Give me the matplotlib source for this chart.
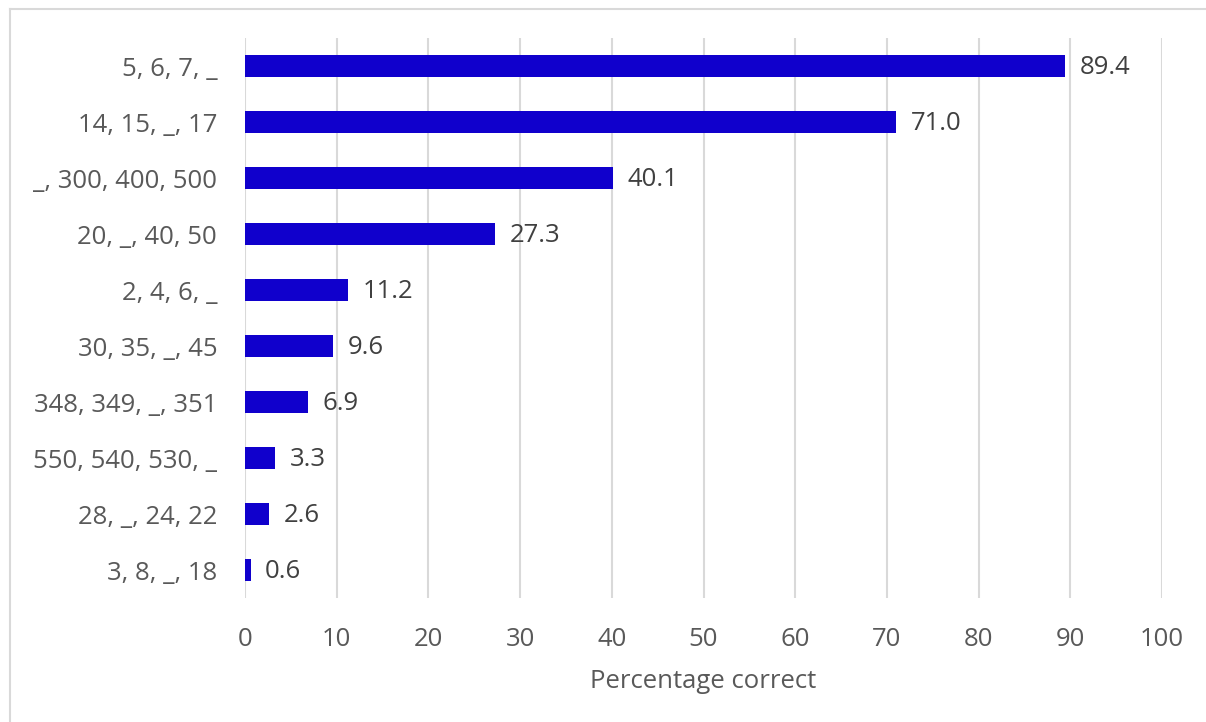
import matplotlib
matplotlib.use("Agg")
import matplotlib.pyplot as plt
from matplotlib.lines import Line2D

# Sequence items (top to bottom) and share of correct answers
items = ["5, 6, 7, _", "14, 15, _, 17", "_, 300, 400, 500", "20, _, 40, 50",
         "2, 4, 6, _", "30, 35, _, 45", "348, 349, _, 351", "550, 540, 530, _",
         "28, _, 24, 22", "3, 8, _, 18"]
pct_correct = [89.4, 71.0, 40.1, 27.3, 11.2, 9.6, 6.9, 3.3, 2.6, 0.6]
x_ticks = [0, 10, 20, 30, 40, 50, 60, 70, 80, 90, 100]

plt.rcParams["font.family"] = ["Open Sans", "DejaVu Sans"]

W, H = 1206, 722
fig = plt.figure(figsize=(W / 100, H / 100), dpi=100)
ax = fig.add_axes([245 / W, 1 - 598 / H, (1162 - 245) / W, (598 - 38) / H])

ypos = list(range(len(items)))
ax.barh(ypos, pct_correct, height=0.4, color="#1000CC", zorder=3)
for y, v in zip(ypos, pct_correct):
    ax.text(v + 1.6, y + 0.03, f"{v:.1f}", va="center", ha="left",
            fontsize=18.5, color="#404040")

ax.set_ylim(len(items) - 0.5, -0.5)
ax.set_xlim(0, 100)
ax.set_yticks(ypos)
ax.set_yticklabels(items)
ax.set_xticks(x_ticks)
ax.tick_params(axis="both", length=0, labelsize=18.5, labelcolor="#595959")
ax.tick_params(axis="y", pad=20)
ax.tick_params(axis="x", pad=21)
ax.xaxis.grid(True, color="#D9D9D9", linewidth=1.5, zorder=0)
for s in ax.spines.values():
    s.set_visible(False)
ax.set_xlabel("Percentage correct", fontsize=18.5, color="#595959", labelpad=12)

# frame lines along the top and left of the chart area
fig.add_artist(Line2D([10 / W, 1], [1 - 9 / H, 1 - 9 / H], color="#D9D9D9",
                      linewidth=1.5, transform=fig.transFigure))
fig.add_artist(Line2D([10 / W, 10 / W], [0, 1 - 9 / H], color="#D9D9D9",
                      linewidth=1.5, transform=fig.transFigure))

fig.savefig("out.png", dpi=100)
